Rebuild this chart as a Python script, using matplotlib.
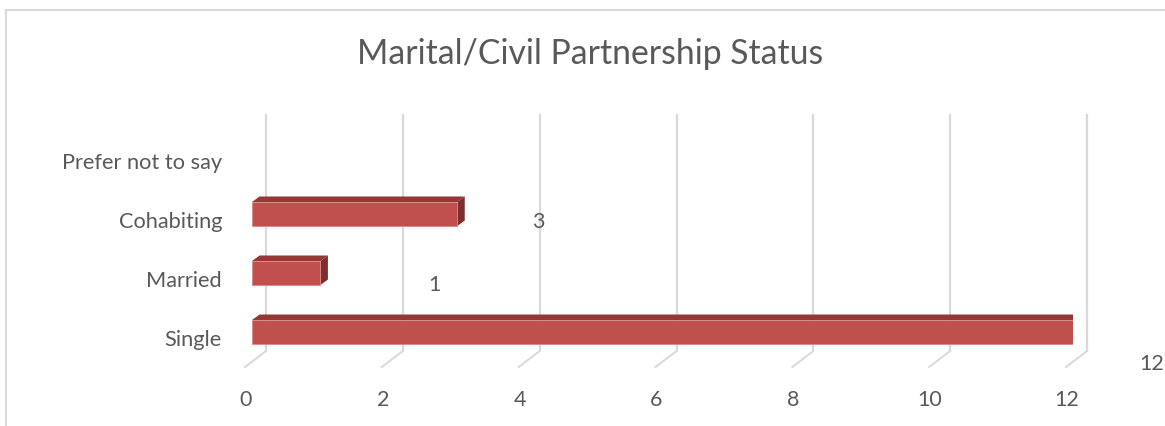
import numpy as np
import matplotlib
matplotlib.use('Agg')
import matplotlib.pyplot as plt
from matplotlib.lines import Line2D
from matplotlib.patches import Polygon

plt.rcParams['font.family'] = 'Lato'

# ---------------------------- data ----------------------------
categories = ["Single", "Married", "Cohabiting", "Prefer not to say"]
counts = [12, 1, 3, 0]
xticks = [0, 2, 4, 6, 8, 10, 12]
title = "Marital/Civil Partnership Status"

# Excel puts the data labels in odd places on this 3D chart
label_dx = [1.15, 1.66, 1.18, 0.0]
label_dy = [-0.525, -0.19, -0.12, 0.0]

# ---------------------------- style ----------------------------
W, H = 1165, 427
c_front = '#C0504D'
c_top = '#953735'
c_side = '#7E2F2D'
c_grid = '#D9D9D9'
c_text = '#595959'

fig = plt.figure(figsize=(W / 100, H / 100), dpi=100)

# outer chart border (light gray, only top and left visible)
fig.add_artist(Line2D([6 / W, 6 / W], [0, 1 - 11 / H], color=c_grid, lw=1.5))
fig.add_artist(Line2D([6 / W, 1], [1 - 11 / H, 1 - 11 / H], color=c_grid, lw=1.5))

# plot area: front plane of the bars
ax_l, ax_r, ax_t, ax_b = 252, 1073, 116, 368
ax = fig.add_axes([ax_l / W, 1 - ax_b / H, (ax_r - ax_l) / W, (ax_b - ax_t) / H])
xmin, xmax = 0, 12
ymin, ymax = -0.593, 3.678
ax.set_xlim(xmin, xmax)
ax.set_ylim(ymin, ymax)
ax.axis('off')

ppx = (ax_r - ax_l) / (xmax - xmin)   # px per unit
ppy = (ax_b - ax_t) / (ymax - ymin)


def dxu(px):
    return px / ppx


def dyu(px):
    return px / ppy


# gridlines on the back wall + floor diagonal
wall_dx = 14
floor_bottom = -0.322
front_dx = -7
for v in xticks:
    ax.plot([v + dxu(wall_dx), v + dxu(wall_dx)], [ymax, floor_bottom],
            color=c_grid, lw=1.6, clip_on=False, zorder=1)
    ax.plot([v + dxu(wall_dx), v + dxu(front_dx)], [floor_bottom, ymin],
            color=c_grid, lw=1.4, clip_on=False, zorder=1)

# 3D bars
ypos = np.arange(len(categories))
bar_h = 0.407
ddx, ddy = dxu(7.5), dyu(5.5)
for y, v in zip(ypos, counts):
    if v <= 0:
        continue
    top = y + bar_h / 2
    bot = y - bar_h / 2
    ax.add_patch(Polygon([(0, top), (v, top), (v + ddx, top + ddy), (ddx, top + ddy)],
                         closed=True, fc=c_top, ec='none', zorder=3))
    ax.add_patch(Polygon([(v, top), (v + ddx, top + ddy), (v + ddx, bot + ddy), (v, bot)],
                         closed=True, fc=c_side, ec='none', zorder=3))
bars = ax.barh(ypos, counts, height=bar_h, color=c_front, edgecolor='#D88A88',
               linewidth=0.6, zorder=4)
for b, v in zip(bars, counts):
    if v <= 0:
        b.set_visible(False)

# data labels
for y, v, lx, ly in zip(ypos, counts, label_dx, label_dy):
    if v <= 0:
        continue
    ax.text(v + lx, y + ly, str(v), ha='center', va='center', fontsize=15.5,
            color=c_text, clip_on=False)

# category labels
for y, name in zip(ypos, categories):
    ax.text(xmin - dxu(30), y - dyu(7), name, ha='right', va='center',
            fontsize=15.7, color=c_text, clip_on=False)

# value axis labels
for v in xticks:
    ax.text(v + dxu(-6), ymin - dyu(32), str(v), ha='center', va='center',
            fontsize=15.5, color=c_text, clip_on=False)

fig.text(590 / W, 1 - 64 / H, title, ha='center', va='baseline',
         fontsize=24.3, color=c_text)

fig.savefig('out.png', dpi=100)
